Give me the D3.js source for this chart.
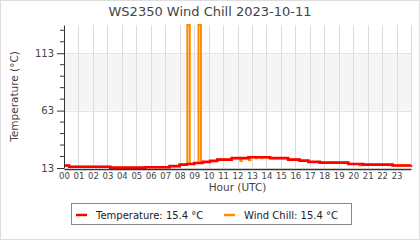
<!DOCTYPE html>
<html>
<head>
<meta charset="utf-8">
<script src="https://cdn.jsdelivr.net/npm/d3@7"></script>
<style>
    body { margin: 0; background: #fff; }
    svg { display: block; font-family: 'DejaVu Sans', sans-serif; }
</style>
</head>
<body>
<div id="chart"></div>
<script>
// temperature steps (hour UTC -> °C)
const tempHours = [0, 0.35, 3.2, 5.6, 7.3, 8.0, 8.5, 9.0, 9.6, 10.1, 10.6, 11.6, 12.75, 14.25, 15.5, 16.3, 16.9, 17.7, 19.66, 20.7, 22.73, 24]
const temperature = [15.2, 14.1, 13.3, 13.7, 14.6, 15.9, 16.5, 17.4, 18.3, 19.2, 20.3, 21.6, 22.4, 21.6, 20.3, 19.4, 18.3, 17.7, 16.5, 15.9, 15.2, 15.4]

// wind chill steps, mostly the same as temperature
const windHours = [0, 0.35, 3.2, 5.6, 7.3, 8.0, 8.5, 8.53, 8.7, 9.0, 9.3, 9.47, 9.6, 10.1, 10.6, 11.6, 12.2, 12.3, 12.75, 12.8, 12.9, 13.25, 13.32, 13.65, 13.72, 14.25, 15.5, 16.3, 16.9, 17.7, 19.66, 20.45, 20.55, 20.7, 22.73, 24]
const windChill = [15.2, 14.1, 13.3, 13.7, 14.6, 15.9, 16.5, 137.6, 16.5, 17.4, 137.6, 17.4, 18.3, 19.2, 20.3, 21.6, 19.2, 21.6, 22.4, 19.8, 22.4, 21.4, 22.4, 21.4, 22.4, 21.6, 20.3, 19.4, 18.3, 17.7, 16.5, 15.2, 16.5, 15.9, 15.2, 15.4]

const majorTicks = [13, 63, 113]
const minorTicks = [23, 33, 43, 53, 73, 83, 93, 103, 123, 133]
const hourTicks = d3.range(0, 24)
const bandRange = [63, 113]

const legendItems = [
    { label: 'Temperature: 15.4 °C', color: '#ff0000' },
    { label: 'Wind Chill: 15.4 °C', color: '#ff8c00' },
]

const width = 420
const height = 240
const margin = { top: 25, right: 9, bottom: 72, left: 64 }
const textColor = '#444'

const svg = d3.select('#chart')
    .append('svg')
    .attr('width', width)
    .attr('height', height)

svg.append('rect')
    .attr('x', 0.5).attr('y', 0.5)
    .attr('width', width - 1).attr('height', height - 1)
    .attr('fill', '#fff')
    .attr('stroke', '#ddd')

const x = d3.scaleLinear()
    .domain([0, 24])
    .range([margin.left, width - margin.right])

const y = d3.scaleLinear()
    .domain([13, d3.max(windChill)])
    .range([height - margin.bottom, margin.top])

// shaded band
svg.append('rect')
    .attr('x', x(0))
    .attr('y', y(bandRange[1]))
    .attr('width', x(24) - x(0))
    .attr('height', y(bandRange[0]) - y(bandRange[1]))
    .attr('fill', '#f5f5f5')

svg.append('g')
    .selectAll('line')
    .data(bandRange)
    .join('line')
    .attr('x1', x(0)).attr('x2', x(24))
    .attr('y1', d => Math.round(y(d)) + 0.5)
    .attr('y2', d => Math.round(y(d)) + 0.5)
    .attr('stroke', '#e4e4e4')

// vertical grid
svg.append('g')
    .selectAll('line')
    .data(d3.range(1, 25))
    .join('line')
    .attr('x1', d => Math.round(x(d)) + 0.5)
    .attr('x2', d => Math.round(x(d)) + 0.5)
    .attr('y1', y.range()[1])
    .attr('y2', y.range()[0])
    .attr('stroke', '#dcdcdc')

// lines
const line = (xs) => d3.line()
    .x((d, i) => x(xs[i]))
    .y(d => y(d))
    .curve(d3.curveStepAfter)

svg.append('path')
    .attr('d', line(windHours)(windChill))
    .attr('fill', 'none')
    .attr('stroke', '#ff8c00')
    .attr('stroke-width', 2)

svg.append('path')
    .attr('d', line(tempHours)(temperature))
    .attr('fill', 'none')
    .attr('stroke', '#ff0000')
    .attr('stroke-width', 2.6)

// y axis
const yAxis = svg.append('g')
    .attr('transform', `translate(${x(0)},0)`)
    .call(d3.axisLeft(y).tickValues(majorTicks).tickSize(7).tickPadding(3).tickSizeOuter(0))
yAxis.append('g')
    .selectAll('line')
    .data(minorTicks)
    .join('line')
    .attr('x1', -4).attr('x2', 0)
    .attr('y1', d => y(d)).attr('y2', d => y(d))
    .attr('stroke', '#333')
yAxis.select('.domain').attr('stroke', '#333')
yAxis.selectAll('.tick line').attr('stroke', '#333')
yAxis.selectAll('text')
    .attr('font-size', 10)
    .attr('font-family', 'DejaVu Sans')
    .attr('fill', textColor)

// x axis
const xAxis = svg.append('g')
    .attr('transform', `translate(0,${y(13) + 1})`)
    .call(d3.axisBottom(x).tickValues(hourTicks).tickSize(0).tickPadding(4)
        .tickFormat(d => d3.format('02d')(d)))
xAxis.select('.domain').attr('stroke', '#333').attr('stroke-width', 1.5)
xAxis.selectAll('text')
    .attr('font-size', 8.5)
    .attr('font-family', 'DejaVu Sans')
    .attr('fill', textColor)

// titles
svg.append('text')
    .attr('x', width / 2)
    .attr('y', 16)
    .attr('text-anchor', 'middle')
    .attr('font-size', 13)
    .attr('fill', textColor)
    .text('WS2350 Wind Chill 2023-10-11')

svg.append('text')
    .attr('x', (x(0) + x(24)) / 2)
    .attr('y', 191)
    .attr('text-anchor', 'middle')
    .attr('font-size', 10.5)
    .attr('fill', textColor)
    .text('Hour (UTC)')

svg.append('text')
    .attr('transform', `translate(18,${(y.range()[0] + y.range()[1]) / 2}) rotate(-90)`)
    .attr('text-anchor', 'middle')
    .attr('font-size', 10.5)
    .attr('fill', textColor)
    .text('Temperature (°C)')

// legend
const legend = svg.append('g')
legend.append('rect')
    .attr('x', 71.5).attr('y', 203.5)
    .attr('width', 280).attr('height', 21)
    .attr('fill', '#fff')
    .attr('stroke', '#888')

const itemX = [76, 224]
legendItems.forEach((item, i) => {
    legend.append('line')
        .attr('x1', itemX[i]).attr('x2', itemX[i] + 11)
        .attr('y1', 215).attr('y2', 215)
        .attr('stroke', item.color)
        .attr('stroke-width', 2.5)
    legend.append('text')
        .attr('x', itemX[i] + 20)
        .attr('y', 218.5)
        .attr('font-size', 10)
        .attr('fill', '#222')
        .text(item.label)
})
</script>
</body>
</html>
